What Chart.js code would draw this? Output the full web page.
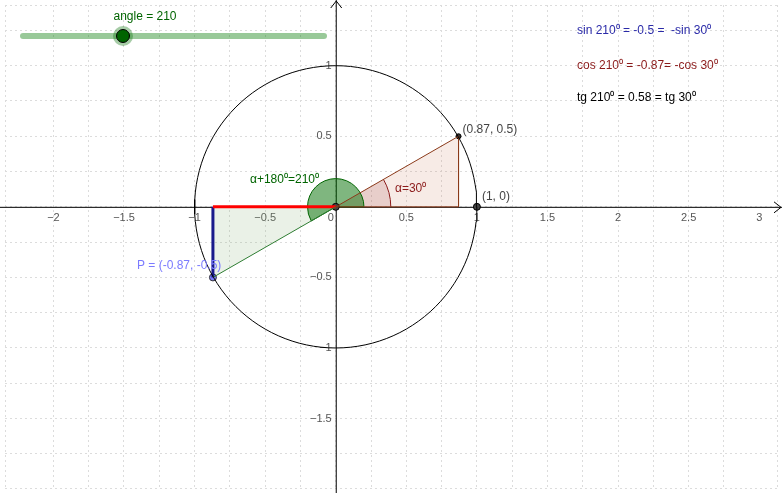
<!DOCTYPE html>
<html>
<head>
<meta charset="utf-8">
<script src="https://cdn.jsdelivr.net/npm/chart.js@4"></script>
<style>
  html, body { margin: 0; padding: 0; background: #fff; }
  #wrap { width: 782px; height: 493px; }
</style>
</head>
<body>
<div id="wrap"><canvas id="c"></canvas></div>
<script>
// View window (axis units)
const X_MIN = -2.343, X_MAX = 3.126;
const Y_MIN = -1.992, Y_MAX = 1.430;

// Tick labels
const xTicks = [-2, -1.5, -1, -0.5, 0.5, 1, 1.5, 2, 2.5, 3];
const yTicks = [1, 0.5, -0.5, -1, -1.5];

// Geometry
const angleDeg = 210;
const refDeg = 30;
const radius = 1;
const pointP = [-0.87, -0.5];
const pointQ = [0.87, 0.5];
const pointOne = [1, 0];
const greenArcR = 0.2;
const redArcR = 0.39;

const circlePts = [];
for (let a = 0; a <= 360; a += 3) {
  circlePts.push({ x: radius * Math.cos(a * Math.PI / 180), y: radius * Math.sin(a * Math.PI / 180) });
}

const datasets = [
  { data: circlePts, borderColor: '#000', borderWidth: 1, pointRadius: 0, showLine: true, tension: 0 },
  // red triangle edges
  { data: [{ x: 0, y: 0 }, { x: pointQ[0], y: pointQ[1] }, { x: pointQ[0], y: 0 }, { x: 0, y: 0 }],
    borderColor: '#8b3a1a', borderWidth: 1, pointRadius: 0, showLine: true },
  // green hypotenuse
  { data: [{ x: 0, y: 0 }, { x: pointP[0], y: pointP[1] }],
    borderColor: '#2e7d32', borderWidth: 1, pointRadius: 0, showLine: true },
  // red cos segment
  { data: [{ x: pointP[0], y: 0 }, { x: 0, y: 0 }],
    borderColor: '#ff0000', borderWidth: 3, pointRadius: 0, showLine: true },
  // blue sin segment
  { data: [{ x: pointP[0], y: 0 }, { x: pointP[0], y: pointP[1] }],
    borderColor: '#1a1a8c', borderWidth: 3, pointRadius: 0, showLine: true },
  // points
  { data: [{ x: 0, y: 0 }, { x: pointOne[0], y: pointOne[1] }],
    pointRadius: 3.5, pointBackgroundColor: '#444', pointBorderColor: '#000', pointBorderWidth: 1, showLine: false },
  { data: [{ x: pointQ[0], y: pointQ[1] }],
    pointRadius: 2.5, pointBackgroundColor: '#333', pointBorderColor: '#000', pointBorderWidth: 1, showLine: false },
  { data: [{ x: pointP[0], y: pointP[1] }],
    pointRadius: 3.5, pointBackgroundColor: '#7b7bff', pointBorderColor: '#333', pointBorderWidth: 1, showLine: false },
];

const FONT = '"Liberation Sans", Arial, sans-serif';

const geoPlugin = {
  id: 'geo',
  beforeDatasetsDraw(chart) {
    const ctx = chart.ctx;
    const xs = chart.scales.x, ys = chart.scales.y;
    const px = v => xs.getPixelForValue(v), py = v => ys.getPixelForValue(v);
    const ox = px(0), oy = py(0);
    const unit = px(1) - ox;
    ctx.save();
    // axes
    ctx.strokeStyle = '#000'; ctx.lineWidth = 1;
    ctx.beginPath();
    ctx.moveTo(0, oy + 0.5); ctx.lineTo(chart.width, oy + 0.5);
    ctx.moveTo(ox + 0.5, 0); ctx.lineTo(ox + 0.5, chart.height);
    ctx.stroke();
    ctx.beginPath();
    ctx.moveTo(ox - 5, 8); ctx.lineTo(ox + 0.5, 1); ctx.lineTo(ox + 6, 8);
    ctx.moveTo(chart.width - 8, oy - 5); ctx.lineTo(chart.width - 1, oy + 0.5); ctx.lineTo(chart.width - 8, oy + 6);
    ctx.stroke();
    ctx.fillStyle = '#555'; ctx.font = '11px ' + FONT;
    ctx.textAlign = 'center'; ctx.textBaseline = 'top';
    xTicks.forEach(t => ctx.fillText(t < 0 ? '\u2212' + Math.abs(t) : String(t), px(t), oy + 6));
    ctx.fillText('0', ox - 5, oy + 6);
    ctx.textAlign = 'right'; ctx.textBaseline = 'middle';
    yTicks.forEach(t => ctx.fillText(t < 0 ? '\u2212' + Math.abs(t) : String(t), ox - 4, py(t)));

    // triangle fills
    ctx.fillStyle = 'rgba(200,120,90,0.15)';
    ctx.beginPath(); ctx.moveTo(ox, oy); ctx.lineTo(px(pointQ[0]), py(pointQ[1])); ctx.lineTo(px(pointQ[0]), oy); ctx.closePath(); ctx.fill();
    ctx.fillStyle = 'rgba(140,180,120,0.18)';
    ctx.beginPath(); ctx.moveTo(ox, oy); ctx.lineTo(px(pointP[0]), py(pointP[1])); ctx.lineTo(px(pointP[0]), oy); ctx.closePath(); ctx.fill();

    // alpha sector
    ctx.fillStyle = 'rgba(150,40,40,0.15)'; ctx.strokeStyle = '#8b1a1a';
    ctx.beginPath(); ctx.moveTo(ox, oy);
    ctx.arc(ox, oy, redArcR * unit, 0, -refDeg * Math.PI / 180, true); ctx.closePath(); ctx.fill();
    ctx.beginPath(); ctx.arc(ox, oy, redArcR * unit, 0, -refDeg * Math.PI / 180, true); ctx.stroke();

    // alpha+180 sector
    ctx.fillStyle = 'rgba(0,110,0,0.5)'; ctx.strokeStyle = '#006400';
    ctx.beginPath(); ctx.moveTo(ox, oy);
    ctx.arc(ox, oy, greenArcR * unit, 0, -angleDeg * Math.PI / 180, true); ctx.closePath(); ctx.fill(); ctx.stroke();
    ctx.restore();
  },
  afterDatasetsDraw(chart) {
    const ctx = chart.ctx;
    const xs = chart.scales.x, ys = chart.scales.y;
    const px = v => xs.getPixelForValue(v), py = v => ys.getPixelForValue(v);
    ctx.save();
    ctx.font = '12px ' + FONT; ctx.textBaseline = 'middle';
    ctx.textAlign = 'left';
    ctx.fillStyle = '#444';
    ctx.fillText('(0.87, 0.5)', px(pointQ[0]) + 4, py(pointQ[1]) - 7);
    ctx.fillText('(1, 0)', px(1) + 5, py(0) - 10);
    ctx.fillStyle = '#7b7bff';
    ctx.fillText('P = (-0.87, -0.5)', 137, 266);
    ctx.fillStyle = '#006400';
    ctx.fillText('\u03b1+180\u2070=210\u2070', 250, 180);
    ctx.fillStyle = '#8b1a1a';
    ctx.fillText('\u03b1=30\u2070', 395, 189);
    // formulas
    ctx.fillStyle = '#2a2aa8';
    ctx.fillText('sin 210\u2070 = -0.5 =  -sin 30\u2070', 577, 31);
    ctx.fillStyle = '#8b1a1a';
    ctx.fillText('cos 210\u2070 = -0.87= -cos 30\u2070', 577, 66);
    ctx.fillStyle = '#000';
    ctx.fillText('tg 210\u2070 = 0.58 = tg 30\u2070', 577, 98);
    // slider
    ctx.fillStyle = '#006400'; ctx.textAlign = 'center';
    ctx.fillText('angle = ' + angleDeg, 145, 17);
    ctx.strokeStyle = 'rgba(0,120,0,0.4)'; ctx.lineWidth = 6; ctx.lineCap = 'round';
    ctx.beginPath(); ctx.moveTo(23, 36); ctx.lineTo(324, 36); ctx.stroke();
    ctx.fillStyle = 'rgba(0,110,0,0.35)';
    ctx.beginPath(); ctx.arc(123, 36, 10, 0, Math.PI * 2); ctx.fill();
    ctx.fillStyle = '#006400'; ctx.strokeStyle = '#000'; ctx.lineWidth = 1;
    ctx.beginPath(); ctx.arc(123, 36, 6.5, 0, Math.PI * 2); ctx.fill(); ctx.stroke();
    ctx.restore();
  },
};

const grid = { color: '#dcdcdc', lineWidth: 1, tickLength: 0, drawTicks: false };
new Chart(document.getElementById('c'), {
  type: 'scatter',
  data: { datasets },
  options: {
    responsive: true, maintainAspectRatio: false, animation: false,
    layout: { padding: 0 },
    plugins: { legend: { display: false }, tooltip: { enabled: false } },
    scales: {
      x: { type: 'linear', min: X_MIN, max: X_MAX, border: { display: false, dash: [2, 3] },
        grid: { ...grid }, ticks: { display: false, stepSize: 0.25 },
        afterFit(s) { s.height = 0; } },
      y: { type: 'linear', min: Y_MIN, max: Y_MAX, border: { display: false, dash: [2, 3] },
        grid: { ...grid }, ticks: { display: false, stepSize: 0.25 },
        afterFit(s) { s.width = 0; } },
    },
  },
  plugins: [geoPlugin],
});
</script>
</body>
</html>
